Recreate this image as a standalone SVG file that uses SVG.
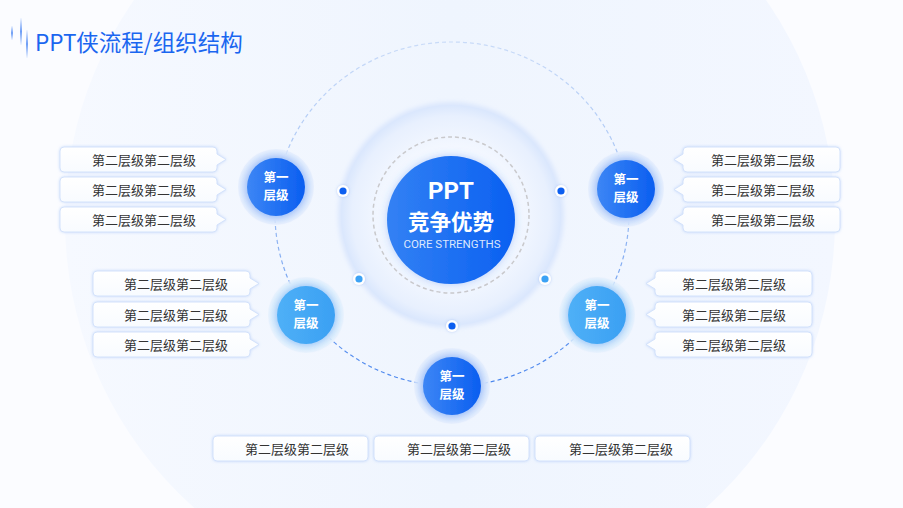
<svg xmlns="http://www.w3.org/2000/svg" xmlns:xlink="http://www.w3.org/1999/xlink" width="903" height="508" viewBox="0 0 903 508">
<defs>
<style>
.t2{font-family:"Noto Sans CJK SC","Noto Sans",sans-serif;font-size:13px;fill:#333;text-anchor:middle}
.t1{font-family:"Noto Sans CJK SC","Noto Sans",sans-serif;font-size:12.5px;font-weight:bold;fill:#fff;text-anchor:middle}
.box{fill:url(#boxg);stroke:#d3e2fb;stroke-width:1;filter:url(#boxsh)}
.dotw{fill:#fff;filter:url(#dotsh)}
</style>
<linearGradient id="bgc" x1="0" y1="0" x2="1" y2="0">
<stop offset="0" stop-color="#f6f9ff"/><stop offset="0.5" stop-color="#eff5fe"/><stop offset="1" stop-color="#f3f7ff"/>
</linearGradient>
<linearGradient id="boxg" x1="0" y1="0" x2="0" y2="1">
<stop offset="0" stop-color="#ffffff"/><stop offset="1" stop-color="#f8fbff"/>
</linearGradient>
<linearGradient id="blueN" x1="0" y1="0" x2="1" y2="0">
<stop offset="0" stop-color="#3d86f5"/><stop offset="1" stop-color="#0a5ef0"/>
</linearGradient>
<linearGradient id="skyN" x1="0" y1="0" x2="1" y2="0">
<stop offset="0" stop-color="#4fb0f7"/><stop offset="1" stop-color="#3aa0f3"/>
</linearGradient>
<linearGradient id="mainG" x1="0" y1="0" x2="1" y2="0">
<stop offset="0" stop-color="#3381f4"/><stop offset="1" stop-color="#0a60f1"/>
</linearGradient>
<radialGradient id="ringG" cx="0.5" cy="0.5" r="0.5">
<stop offset="0.6" stop-color="#f4f8ff"/><stop offset="0.9" stop-color="#e8f0fe"/><stop offset="1" stop-color="#dae7fd"/>
</radialGradient>
<radialGradient id="glowN" cx="0.5" cy="0.5" r="0.5">
<stop offset="0.7" stop-color="#bcd4fb"/><stop offset="0.85" stop-color="#d3e2fc"/><stop offset="1" stop-color="#e4eefd" stop-opacity="0.7"/>
</radialGradient>
<radialGradient id="glowS" cx="0.5" cy="0.5" r="0.5">
<stop offset="0.7" stop-color="#bfe0fb"/><stop offset="0.85" stop-color="#d6ebfc"/><stop offset="1" stop-color="#e6f2fd" stop-opacity="0.7"/>
</radialGradient>
<linearGradient id="arcG" gradientUnits="userSpaceOnUse" x1="0" y1="42" x2="0" y2="386">
<stop offset="0" stop-color="#c9dbf8"/><stop offset="0.5" stop-color="#9bbcf3"/><stop offset="1" stop-color="#4a86ee"/>
</linearGradient>
<linearGradient id="ln1" x1="0" y1="0" x2="0" y2="1">
<stop offset="0" stop-color="#1a66f0" stop-opacity="0.05"/><stop offset="0.5" stop-color="#1a66f0" stop-opacity="0.9"/><stop offset="1" stop-color="#1a66f0" stop-opacity="0.05"/>
</linearGradient>
<filter id="boxsh" x="-10%" y="-40%" width="120%" height="180%">
<feGaussianBlur in="SourceAlpha" stdDeviation="2"/>
<feFlood flood-color="#8fb4f5" flood-opacity="0.45"/><feComposite operator="in" in2="SourceAlpha"/>
<feGaussianBlur stdDeviation="1.5"/>
<feMerge><feMergeNode/><feMergeNode in="SourceGraphic"/></feMerge>
</filter>
<filter id="nsh" x="-50%" y="-50%" width="200%" height="200%">
<feGaussianBlur in="SourceAlpha" stdDeviation="4" result="b"/>
<feFlood flood-color="#3b7cf0" flood-opacity="0.35"/><feComposite operator="in" in2="b"/>
<feMerge><feMergeNode/><feMergeNode in="SourceGraphic"/></feMerge>
</filter>
<filter id="soft" x="-20%" y="-20%" width="140%" height="140%"><feGaussianBlur stdDeviation="2"/></filter>
<filter id="dotsh" x="-100%" y="-100%" width="300%" height="300%">
<feGaussianBlur in="SourceAlpha" stdDeviation="1.5" result="b"/>
<feFlood flood-color="#6b9af0" flood-opacity="0.4"/><feComposite operator="in" in2="b"/>
<feMerge><feMergeNode/><feMergeNode in="SourceGraphic"/></feMerge>
</filter>
<path id="boxR" d="M4,0H153Q157,0 157,4V7L166,12.5L157,18V21Q157,25 153,25H4Q0,25 0,21V4Q0,0 4,0Z"/>
<path id="boxL" d="M4,0H153Q157,0 157,4V21Q157,25 153,25H4Q0,25 0,21V18L-9,12.5L0,7V4Q0,0 4,0Z"/>
<rect id="boxN" x="0" y="0" width="155" height="25" rx="4"/>
</defs>

<rect width="903" height="508" fill="#fbfcff"/>
<circle cx="450" cy="220" r="385" fill="url(#bgc)"/>

<g id="title">
<rect x="11.3" y="26" width="1.4" height="14" fill="url(#ln1)"/>
<rect x="20.3" y="18" width="1.4" height="27" fill="url(#ln1)"/>
<rect x="26.3" y="30" width="1.4" height="28" fill="url(#ln1)"/>
<text x="35" y="51" font-family="'Noto Sans CJK SC','Noto Sans',sans-serif" font-size="22.5" fill="#1a66f0">PPT侠流程/组织结构</text>
</g>

<g id="connectors">
<ellipse cx="452" cy="214" rx="177" ry="172" fill="none" stroke="url(#arcG)" stroke-width="1.2" stroke-dasharray="4 3"/>
</g>

<g id="core">
<circle cx="451" cy="215" r="113" fill="#dbe7fd" filter="url(#soft)"/>
<circle cx="451" cy="215" r="110" fill="url(#ringG)"/>
<circle cx="451" cy="215" r="78" fill="none" stroke="#c9c9cc" stroke-width="1.5" stroke-dasharray="4 3"/>
<circle cx="451" cy="220" r="64" fill="url(#mainG)" filter="url(#nsh)"/>
<text text-anchor="middle" fill="#fff"><tspan x="451" y="198.5" font-family="Roboto,'Noto Sans',sans-serif" font-size="24" font-weight="bold">PPT</tspan><tspan x="451" y="229.5" font-family="'Noto Sans CJK SC','Noto Sans',sans-serif" font-size="21.5" font-weight="bold">竞争优势</tspan><tspan x="452" y="248" font-family="Roboto,'Noto Sans',sans-serif" font-size="11.5" fill-opacity="0.85">CORE STRENGTHS</tspan></text>
</g>

<g id="dots">
<circle class="dotw" cx="343" cy="191" r="6"/><circle cx="343" cy="191" r="3.6" fill="#0d5ff0"/>
<circle class="dotw" cx="561" cy="191" r="6"/><circle cx="561" cy="191" r="3.6" fill="#0d5ff0"/>
<circle class="dotw" cx="359" cy="279" r="6"/><circle cx="359" cy="279" r="3.6" fill="#3ca2f5"/>
<circle class="dotw" cx="545" cy="279" r="6"/><circle cx="545" cy="279" r="3.6" fill="#3ca2f5"/>
<circle class="dotw" cx="452" cy="326" r="6"/><circle cx="452" cy="326" r="3.6" fill="#0d5ff0"/>
</g>

<g id="node-tl">
<circle cx="276" cy="187" r="38" fill="url(#glowN)"/>
<circle cx="276" cy="187" r="29" fill="url(#blueN)" filter="url(#nsh)"/>
<text class="t1"><tspan x="276" y="182">第一</tspan><tspan x="276" y="200.3">层级</tspan></text>
</g>
<g id="node-tr">
<circle cx="626" cy="189" r="38" fill="url(#glowN)"/>
<circle cx="626" cy="189" r="29" fill="url(#blueN)" filter="url(#nsh)"/>
<text class="t1"><tspan x="626" y="184">第一</tspan><tspan x="626" y="202.3">层级</tspan></text>
</g>
<g id="node-ml">
<circle cx="306" cy="315" r="38" fill="url(#glowS)"/>
<circle cx="306" cy="315" r="29" fill="url(#skyN)" filter="url(#nsh)"/>
<text class="t1"><tspan x="306" y="310">第一</tspan><tspan x="306" y="328.3">层级</tspan></text>
</g>
<g id="node-mr">
<circle cx="597" cy="315" r="38" fill="url(#glowS)"/>
<circle cx="597" cy="315" r="29" fill="url(#skyN)" filter="url(#nsh)"/>
<text class="t1"><tspan x="597" y="310">第一</tspan><tspan x="597" y="328.3">层级</tspan></text>
</g>
<g id="node-b">
<circle cx="452" cy="386" r="38" fill="url(#glowN)"/>
<circle cx="452" cy="386" r="29" fill="url(#blueN)" filter="url(#nsh)"/>
<text class="t1"><tspan x="452" y="381">第一</tspan><tspan x="452" y="399.3">层级</tspan></text>
</g>

<g id="boxes-tl">
<use href="#boxR" xlink:href="#boxR" class="box" x="60" y="147"/><text class="t2" x="144" y="164.5">第二层级第二层级</text>
<use href="#boxR" xlink:href="#boxR" class="box" x="60" y="177"/><text class="t2" x="144" y="194.5">第二层级第二层级</text>
<use href="#boxR" xlink:href="#boxR" class="box" x="60" y="207"/><text class="t2" x="144" y="224.5">第二层级第二层级</text>
</g>
<g id="boxes-tr">
<use href="#boxL" xlink:href="#boxL" class="box" x="683" y="147"/><text class="t2" x="763" y="164.5">第二层级第二层级</text>
<use href="#boxL" xlink:href="#boxL" class="box" x="683" y="177"/><text class="t2" x="763" y="194.5">第二层级第二层级</text>
<use href="#boxL" xlink:href="#boxL" class="box" x="683" y="207"/><text class="t2" x="763" y="224.5">第二层级第二层级</text>
</g>
<g id="boxes-ml">
<use href="#boxR" xlink:href="#boxR" class="box" x="93" y="271"/><text class="t2" x="176" y="288.5">第二层级第二层级</text>
<use href="#boxR" xlink:href="#boxR" class="box" x="93" y="302"/><text class="t2" x="176" y="319.5">第二层级第二层级</text>
<use href="#boxR" xlink:href="#boxR" class="box" x="93" y="332"/><text class="t2" x="176" y="349.5">第二层级第二层级</text>
</g>
<g id="boxes-mr">
<use href="#boxL" xlink:href="#boxL" class="box" x="655" y="271"/><text class="t2" x="734" y="288.5">第二层级第二层级</text>
<use href="#boxL" xlink:href="#boxL" class="box" x="655" y="302"/><text class="t2" x="734" y="319.5">第二层级第二层级</text>
<use href="#boxL" xlink:href="#boxL" class="box" x="655" y="332"/><text class="t2" x="734" y="349.5">第二层级第二层级</text>
</g>
<g id="boxes-b">
<use href="#boxN" xlink:href="#boxN" class="box" x="213" y="436"/><text class="t2" x="297" y="453.5">第二层级第二层级</text>
<use href="#boxN" xlink:href="#boxN" class="box" x="374" y="436"/><text class="t2" x="459" y="453.5">第二层级第二层级</text>
<use href="#boxN" xlink:href="#boxN" class="box" x="535" y="436"/><text class="t2" x="621" y="453.5">第二层级第二层级</text>
</g>
</svg>
